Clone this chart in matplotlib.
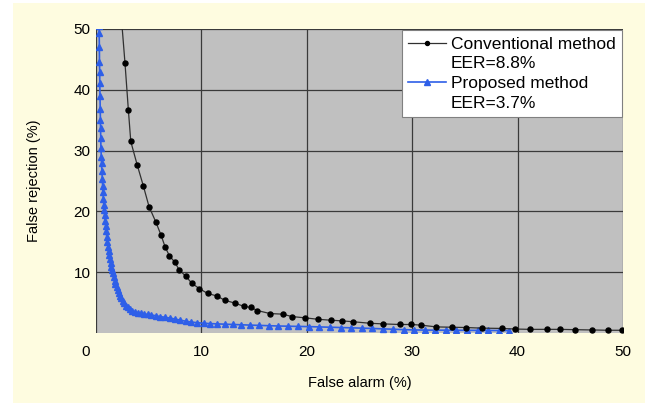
import matplotlib
matplotlib.use('Agg')
import matplotlib.pyplot as plt
import matplotlib.transforms as mtransforms
from matplotlib.patches import Rectangle
from matplotlib.lines import Line2D

plt.rcParams['font.family'] = ['Liberation Sans', 'DejaVu Sans']

# Conventional method (black)
conv_x = [2.40, 2.75, 3.07, 3.30, 3.90, 4.49, 5.03, 5.69, 6.17, 6.55, 6.96, 7.50,
          7.88, 8.54, 9.08, 9.80, 10.6, 11.45, 12.2, 13.2, 14.0, 14.7, 15.3, 16.5,
          17.7, 18.6, 19.8, 21.1, 22.3, 23.3, 24.4, 26.0, 27.2, 28.8, 29.9, 30.8,
          32.3, 33.8, 35.1, 36.6, 38.5, 39.8, 41.2, 42.8, 44.0, 45.4, 47.1, 48.6, 49.9]
conv_y = [52.0, 44.4, 36.7, 31.5, 27.7, 24.2, 20.8, 18.2, 16.1, 14.2, 12.7, 11.6,
          10.4, 9.3, 8.2, 7.3, 6.5, 6.1, 5.4, 4.9, 4.4, 4.2, 3.7, 3.2,
          3.1, 2.7, 2.5, 2.25, 2.1, 2.0, 1.85, 1.6, 1.5, 1.4, 1.4, 1.3,
          1.0, 0.95, 0.9, 0.8, 0.75, 0.65, 0.6, 0.6, 0.6, 0.55, 0.5, 0.45, 0.45]

# Proposed method (blue)
prop_x = [0.30, 0.30, 0.32, 0.33, 0.35, 0.36, 0.38, 0.40, 0.42, 0.43, 0.45, 0.47,
          0.50, 0.53, 0.56, 0.60, 0.63, 0.66, 0.70, 0.74, 0.78, 0.82, 0.87, 0.92,
          0.97, 1.02, 1.08, 1.14, 1.20, 1.26, 1.32, 1.38, 1.45, 1.52, 1.60, 1.68,
          1.76, 1.85, 1.95, 2.05, 2.15, 2.27, 2.40, 2.55, 2.70, 2.88, 3.05, 3.25,
          3.45, 3.70, 3.95, 4.25, 4.55, 4.90, 5.25, 5.65, 6.05, 6.50, 7.00, 7.50,
          8.00, 8.50, 9.00, 9.60, 10.2, 10.8, 11.5, 12.2, 13.0, 13.8, 14.6, 15.5,
          16.4, 17.3, 18.2, 19.2, 20.2, 21.2, 22.2, 23.2, 24.2, 25.2, 26.2, 27.2,
          28.2, 29.2, 30.2, 31.2, 32.2, 33.2, 34.2, 35.2, 36.2, 37.2, 38.2, 39.2]
prop_y = [50.5, 49.3, 47.0, 44.6, 43.0, 41.1, 39.0, 36.8, 35.0, 33.7, 32.0, 30.4,
          29.0, 28.0, 26.6, 25.3, 24.2, 23.2, 22.1, 21.1, 20.2, 19.4, 18.5, 17.6,
          16.7, 15.8, 15.0, 14.2, 13.5, 12.8, 12.1, 11.5, 10.9, 10.4, 9.8, 9.2,
          8.6, 8.1, 7.6, 7.1, 6.6, 6.1, 5.7, 5.3, 4.9, 4.5, 4.2, 3.9,
          3.6, 3.45, 3.35, 3.25, 3.15, 3.05, 2.95, 2.85, 2.7, 2.6, 2.45, 2.3,
          2.1, 1.95, 1.8, 1.7, 1.6, 1.55, 1.5, 1.45, 1.4, 1.35, 1.3, 1.25,
          1.2, 1.15, 1.12, 1.08, 1.05, 1.0, 0.95, 0.9, 0.85, 0.8, 0.75, 0.68,
          0.62, 0.55, 0.5, 0.48, 0.47, 0.46, 0.45, 0.44, 0.43, 0.42, 0.41, 0.4]

x_ticks = [0, 10, 20, 30, 40, 50]
y_ticks = [10, 20, 30, 40, 50]

cream = '#FEFCE0'
blue = '#2E5FE8'

fig = plt.figure(figsize=(6.45, 4.03), dpi=100)
fig.patch.set_facecolor('white')
fig.add_artist(Rectangle((13 / 645, 0), 1, 1 - 3 / 403, transform=fig.transFigure,
                         facecolor=cream, edgecolor='none', zorder=-10))

ax = fig.add_axes([96 / 645, 70 / 403, 527 / 645, 304 / 403])
ax.set_facecolor('#C0C0C0')

l1, = ax.plot(conv_x, conv_y, color='#303030', lw=0.9, marker='o', ms=3.6,
              mfc='black', mec='black', zorder=3)
l2, = ax.plot(prop_x, prop_y, color=blue, lw=1.2, marker='^', ms=4.6,
              mfc=blue, mec=blue, zorder=2)

ax.set_xlim(0, 50)
ax.set_ylim(0, 50)
ax.set_xticks(x_ticks)
ax.set_yticks(y_ticks)
ax.grid(True, color='#3a3a3a', lw=0.9)
ax.set_axisbelow(True)
for s in ax.spines.values():
    s.set_visible(False)
ax.tick_params(length=0, labelsize=11)
ax.tick_params(axis='x', pad=9)
ax.tick_params(axis='y', pad=4)

# the "0" label sits a little left of the axis origin
lbl0 = ax.get_xticklabels()[0]
lbl0.set_transform(lbl0.get_transform() +
                   mtransforms.ScaledTranslation(-10 / 100, 0, fig.dpi_scale_trans))

ax.set_xlabel('False alarm (%)', fontsize=10.5)
ax.set_ylabel('False rejection (%)', fontsize=10.5)
ax.xaxis.set_label_coords(0.5, -0.14)
ax.yaxis.set_label_coords(-0.105, 0.5)

blank = Line2D([], [], alpha=0)
leg = ax.legend([l1, blank, l2, blank],
                ['Conventional method', 'EER=8.8%', 'Proposed method', 'EER=3.7%'],
                loc='upper right', bbox_to_anchor=(1.0, 1.0), fontsize=12.5,
                frameon=True, fancybox=False, framealpha=1, edgecolor='#808080',
                handlelength=2.2, handletextpad=0.25, labelspacing=0.26,
                borderpad=0.38, borderaxespad=0.05, markerscale=0.8)
leg.get_frame().set_linewidth(0.8)

fig.savefig('out.png', dpi=100, facecolor=fig.get_facecolor())
